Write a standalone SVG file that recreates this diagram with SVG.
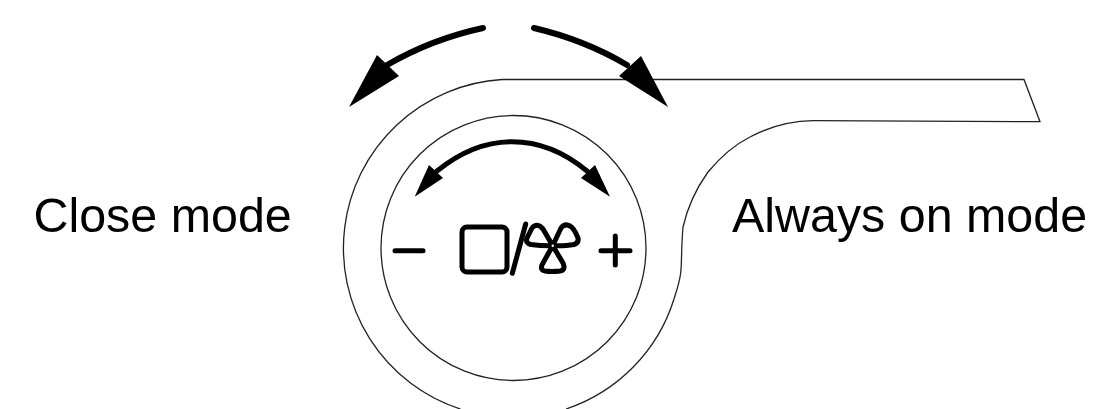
<svg xmlns="http://www.w3.org/2000/svg" width="1102" height="409" viewBox="0 0 1102 409">
<style>
.o{fill:none;stroke:#222;stroke-width:1.300}
.a{fill:none;stroke:#000;stroke-linecap:round}
.g{fill:none;stroke:#000;stroke-width:5;stroke-linecap:round;stroke-linejoin:round}
.h{fill:#000;stroke:none}
text{font-family:"Liberation Sans",Arial,sans-serif;font-size:48.400px;fill:#000}
</style>
<rect width="1102" height="409" fill="#fff"/>
<g id="body"><path class="o" d="M460.500 409A169 169 0 0 1 502 79.500L1024 79.500L1040 121.700L813 120.700C790 121 767 128 750 137C732 146 718 160 708 172C698 186 688 205 683 227C681 250 682 262 680.700 273C679 285 676 292 674 299A169 169 0 0 1 566 409"/></g>
<g id="dial"><circle class="o" cx="513.500" cy="248" r="132.500"/></g>
<g id="connectors">
<path class="a" stroke-width="6" d="M483 28Q432 39 387 65"/>
<path class="h" d="M349 107L377 55L399 76Z"/>
<path class="a" stroke-width="6" d="M534 28Q585 40 627 65"/>
<path class="h" d="M668 107L641 56L619 76Z"/>
<path class="a" stroke-width="5" d="M437 171Q473 141.700 512 141.700Q552 141.700 587 171"/>
<path class="h" d="M414.700 196.700L429 165L443 178Z"/>
<path class="h" d="M610 196.700L595 165L581 178Z"/>
</g>
<g id="minus"><path class="g" d="M395 250.700H423"/></g>
<g id="square"><rect class="g" x="462" y="227" width="45" height="45" rx="5"/></g>
<g id="slash"><path class="g" d="M525.700 224L512.300 273.300"/></g>
<g id="fan"><path class="g" d="M552.700 245.700L543 229Q537 222 532 228L527 238Q525 243 531 244.500Q542 246 552.700 245.700Q566 246 574 244.500Q579 243 578 238Q574 228 570 226Q565 223 561 228L552.700 245.700L563 263Q566 270 560 271Q552 272 545 271Q539 270 543 263L552.700 245.700"/><circle cx="552.700" cy="245.700" r="1.200" fill="#fff"/></g>
<g id="plus"><path class="g" d="M601 250.700H630M615.300 236V265"/></g>
<g id="close-label"><text x="33.500" y="232">Close mode</text></g>
<g id="on-label"><text x="732" y="232">Always on mode</text></g>
</svg>
